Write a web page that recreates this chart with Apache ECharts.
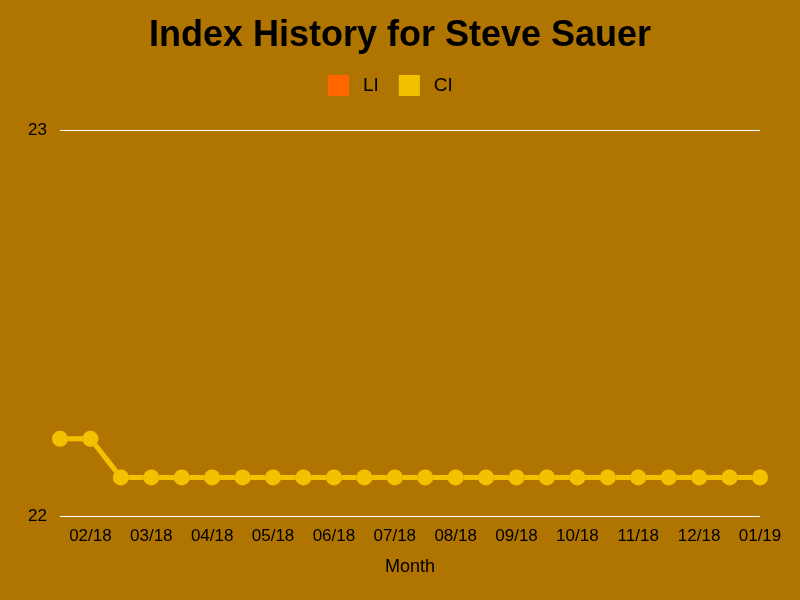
<!DOCTYPE html>
<html>
<head>
<meta charset="utf-8">
<script src="https://cdn.jsdelivr.net/npm/echarts@6/dist/echarts.min.js"></script>
<style>
  html, body { margin: 0; padding: 0; background: #b07400; }
  #chart { width: 800px; height: 600px; }
</style>
</head>
<body>
<div id="chart"></div>
<script>
// two readings per month, labelled by month
var months = ["01/18", "02/18", "02/18", "03/18", "03/18", "04/18", "04/18", "05/18",
  "05/18", "06/18", "06/18", "07/18", "07/18", "08/18", "08/18", "09/18",
  "09/18", "10/18", "10/18", "11/18", "11/18", "12/18", "12/18", "01/19"];
var liValues = [22.2, 22.2, 22.1, 22.1, 22.1, 22.1, 22.1, 22.1, 22.1, 22.1, 22.1, 22.1,
  22.1, 22.1, 22.1, 22.1, 22.1, 22.1, 22.1, 22.1, 22.1, 22.1, 22.1, 22.1];
var ciValues = [22.2, 22.2, 22.1, 22.1, 22.1, 22.1, 22.1, 22.1, 22.1, 22.1, 22.1, 22.1,
  22.1, 22.1, 22.1, 22.1, 22.1, 22.1, 22.1, 22.1, 22.1, 22.1, 22.1, 22.1];

var chart = echarts.init(document.getElementById("chart"));
var font = "'Liberation Sans', Arial, sans-serif";

var option = {
  backgroundColor: "#b07400",
  animation: false,
  title: {
    text: "Index History for Steve Sauer",
    left: "center",
    top: 13,
    textStyle: { fontFamily: font, fontSize: 36, fontWeight: "bold", color: "#000" }
  },
  legend: {
    top: 70,
    left: 323,
    itemWidth: 21,
    itemHeight: 21,
    itemGap: 20,
    icon: "rect",
    textStyle: { fontFamily: font, fontSize: 19, color: "#000", padding: [0, 0, 0, 9] },
    data: ["LI", "CI"]
  },
  grid: { left: 60, right: 40, top: 130, bottom: 84 },
  xAxis: {
    type: "category",
    data: months,
    boundaryGap: false,
    name: "Month",
    nameLocation: "middle",
    nameGap: 42,
    nameTextStyle: { fontFamily: font, fontSize: 18, color: "#000" },
    axisLine: { show: false },
    axisTick: { show: false },
    axisLabel: {
      interval: function (i) { return i % 2 === 1; },
      margin: 12,
      fontFamily: font,
      fontSize: 17,
      color: "#000"
    }
  },
  yAxis: {
    type: "value",
    min: 22,
    max: 23,
    interval: 1,
    axisLine: { show: false },
    axisTick: { show: false },
    axisLabel: { margin: 13, fontFamily: font, fontSize: 17, color: "#000" },
    splitLine: { lineStyle: { color: "#ffffff", width: 1 } }
  },
  series: [
    {
      name: "LI",
      type: "line",
      data: liValues,
      color: "#ff6600",
      symbol: "circle",
      symbolSize: 16,
      lineStyle: { width: 5 }
    },
    {
      name: "CI",
      type: "line",
      data: ciValues,
      color: "#f2c200",
      symbol: "circle",
      symbolSize: 16,
      lineStyle: { width: 5 }
    }
  ]
};
chart.setOption(option);
</script>
</body>
</html>
